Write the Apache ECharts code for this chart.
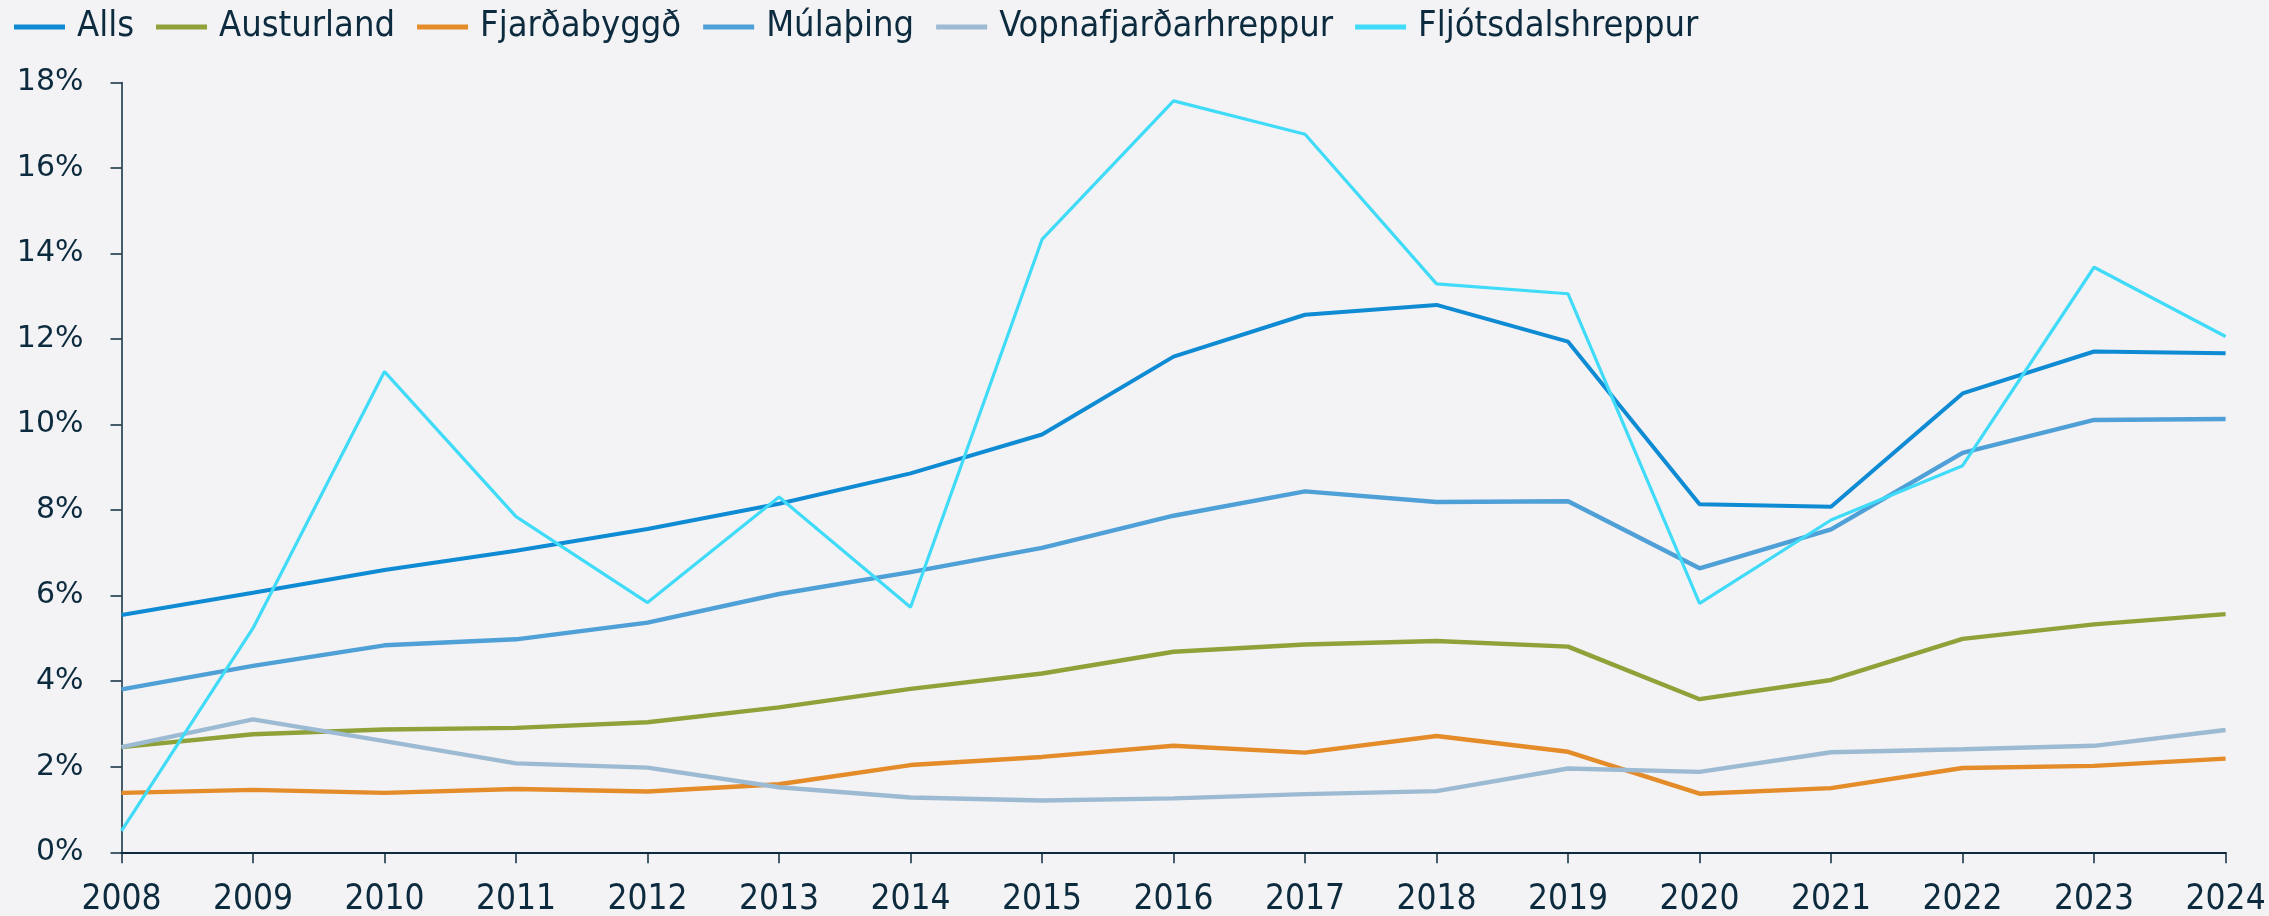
<!DOCTYPE html>
<html>
<head>
<meta charset="utf-8">
<script src="https://cdn.jsdelivr.net/npm/echarts@6/dist/echarts.min.js"></script>
<style>
html,body{margin:0;padding:0;background:#F3F3F5;}
#c{width:2269px;height:916px;}
</style>
</head>
<body>
<div id="c"></div>
<script>
const years = ['2008','2009','2010','2011','2012','2013','2014','2015','2016','2017','2018','2019','2020','2021','2022','2023','2024'];
const alls = [5.55,6.07,6.6,7.05,7.56,8.15,8.86,9.77,11.59,12.57,12.8,11.94,8.14,8.08,10.73,11.71,11.67];
const austurland = [2.46,2.76,2.87,2.91,3.04,3.39,3.82,4.18,4.69,4.86,4.94,4.81,3.58,4.03,4.99,5.33,5.57];
const fjardabyggd = [1.39,1.46,1.39,1.48,1.42,1.59,2.04,2.23,2.49,2.33,2.72,2.35,1.37,1.5,1.97,2.02,2.19];
const mulathing = [3.81,4.36,4.84,4.98,5.37,6.04,6.55,7.12,7.87,8.44,8.19,8.21,6.64,7.55,9.34,10.11,10.13];
const vopnafjordur = [2.46,3.11,2.6,2.08,1.98,1.52,1.28,1.21,1.26,1.36,1.43,1.96,1.88,2.34,2.41,2.49,2.86];
const fljotsdalur = [0.5,5.24,11.24,7.85,5.84,8.31,5.73,14.33,17.57,16.79,13.29,13.06,5.82,7.77,9.04,13.68,12.06];
const yTicks = {min:0, max:18, interval:2};

const names = ['Alls','Austurland','Fjarðabyggð','Múlaþing','Vopnafjarðarhreppur','Fljótsdalshreppur'];
const colors = ['#0F8BD4','#8FA23A','#E48B2A','#4EA0D6','#9DBAD3','#3FDBF8'];
const widths = [4,4.4,4.4,4.4,4.4,3.2];
const datasets = [alls,austurland,fjardabyggd,mulathing,vopnafjordur,fljotsdalur];
const textColor = '#0D2B3E';

const chart = echarts.init(document.getElementById('c'));
chart.setOption({
  backgroundColor:'#F3F3F5',
  animation:false,
  legend:{
    left:14, top:9, padding:0, itemGap:22,
    itemWidth:51, itemHeight:5, icon:'rect',
    textStyle:{color:textColor, fontFamily:'DejaVu Sans Condensed', fontSize:36, padding:[0,0,0,7]},
    data:names
  },
  grid:{left:121.5, right:43.4, top:82.5, bottom:63.7, containLabel:false, outerBoundsMode:'none'},
  xAxis:{
    type:'category', data:years, boundaryGap:false,
    axisLine:{lineStyle:{color:textColor, width:2}},
    axisTick:{show:true, length:11, lineStyle:{color:textColor, width:1.5}},
    axisLabel:{color:textColor, fontFamily:'DejaVu Sans Condensed', fontSize:35, margin:30, interval:0},
    splitLine:{show:false}
  },
  yAxis:{
    type:'value', min:yTicks.min, max:yTicks.max, interval:yTicks.interval,
    axisLine:{show:true, lineStyle:{color:textColor, width:1.5}},
    axisTick:{show:true, length:11, lineStyle:{color:textColor, width:1.5}},
    axisLabel:{color:textColor, fontFamily:'DejaVu Sans', fontSize:30, margin:38, formatter:'{value}%'},
    splitLine:{show:false}
  },
  series: names.map((n,i)=>({
    name:n, type:'line', data:datasets[i], symbol:'none',
    lineStyle:{color:colors[i], width:widths[i]},
    itemStyle:{color:colors[i]}
  }))
});
</script>
</body>
</html>
